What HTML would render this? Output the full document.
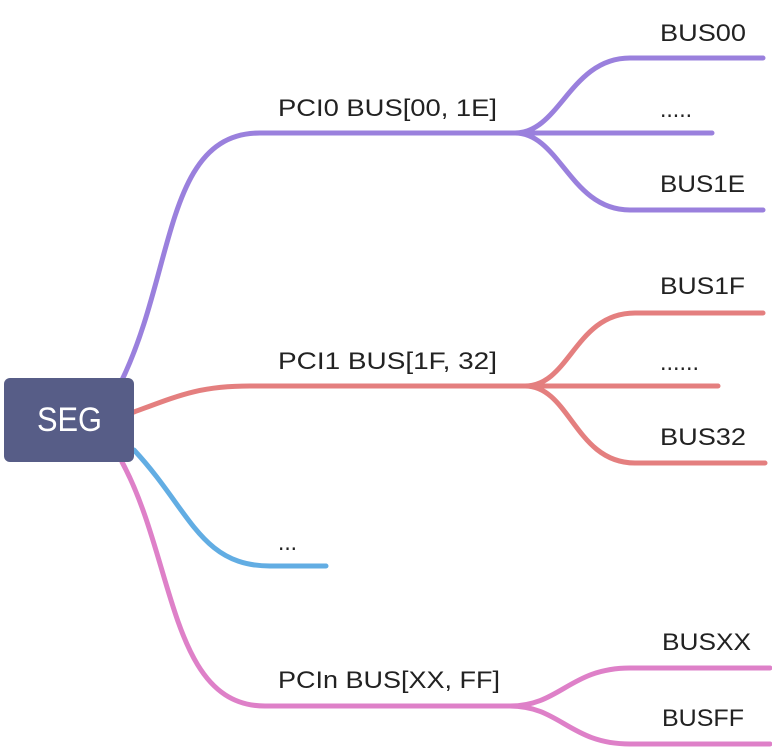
<!DOCTYPE html>
<html><head><style>
body{margin:0;background:#fff;width:772px;height:748px;overflow:hidden}
svg text{font-family:"Liberation Sans",sans-serif;font-size:24px;fill:#222}
</style></head><body>
<svg width="772" height="748" viewBox="0 0 772 748" xmlns="http://www.w3.org/2000/svg">
<g fill="none" stroke-width="5" stroke-linecap="round">
<g stroke="#9a80dd">
<path d="M122 380 C175 270 165 133 260 133 L525 133"/>
<path d="M515 133 C560 133 570 58 630 58 L763 58"/>
<path d="M515 133 L712 133"/>
<path d="M515 133 C560 133 570 210 630 210 L763 210"/>
</g>
<g stroke="#e47f7f">
<path d="M134 412 C180 395 200 386 250 386 L540 386"/>
<path d="M525 386 C570 386 575 313 635 313 L763 313"/>
<path d="M525 386 L718 386"/>
<path d="M525 386 C570 386 575 463 635 463 L765 463"/>
</g>
<path stroke="#62ade3" d="M134 450 C190 510 200 566 270 566 L326 566"/>
<g stroke="#de80c8">
<path d="M122 462 C175 560 170 706 265 706 L520 706"/>
<path d="M510 706 C560 706 570 668 630 668 L770 668"/>
<path d="M510 706 C560 706 570 744 630 744 L770 744"/>
</g>
</g>
<rect x="4" y="378" width="130" height="84" rx="6" fill="#575d87"/>
<text x="37" y="431" style="fill:#fff;font-size:34px" textLength="65" lengthAdjust="spacingAndGlyphs">SEG</text>
<text x="278" y="116" textLength="219" lengthAdjust="spacingAndGlyphs">PCI0 BUS[00, 1E]</text>
<text x="660" y="41" textLength="86" lengthAdjust="spacingAndGlyphs">BUS00</text>
<text x="660" y="117" textLength="32" lengthAdjust="spacingAndGlyphs">.....</text>
<text x="660" y="192" textLength="85" lengthAdjust="spacingAndGlyphs">BUS1E</text>
<text x="278" y="369" textLength="219" lengthAdjust="spacingAndGlyphs">PCI1 BUS[1F, 32]</text>
<text x="660" y="294" textLength="85" lengthAdjust="spacingAndGlyphs">BUS1F</text>
<text x="660" y="370" textLength="39" lengthAdjust="spacingAndGlyphs">......</text>
<text x="660" y="445" textLength="86" lengthAdjust="spacingAndGlyphs">BUS32</text>
<text x="278" y="550" textLength="19" lengthAdjust="spacingAndGlyphs">...</text>
<text x="278" y="688" textLength="222" lengthAdjust="spacingAndGlyphs">PCIn BUS[XX, FF]</text>
<text x="662" y="650" textLength="89" lengthAdjust="spacingAndGlyphs">BUSXX</text>
<text x="662" y="726" textLength="82" lengthAdjust="spacingAndGlyphs">BUSFF</text>
</svg>
</body></html>
